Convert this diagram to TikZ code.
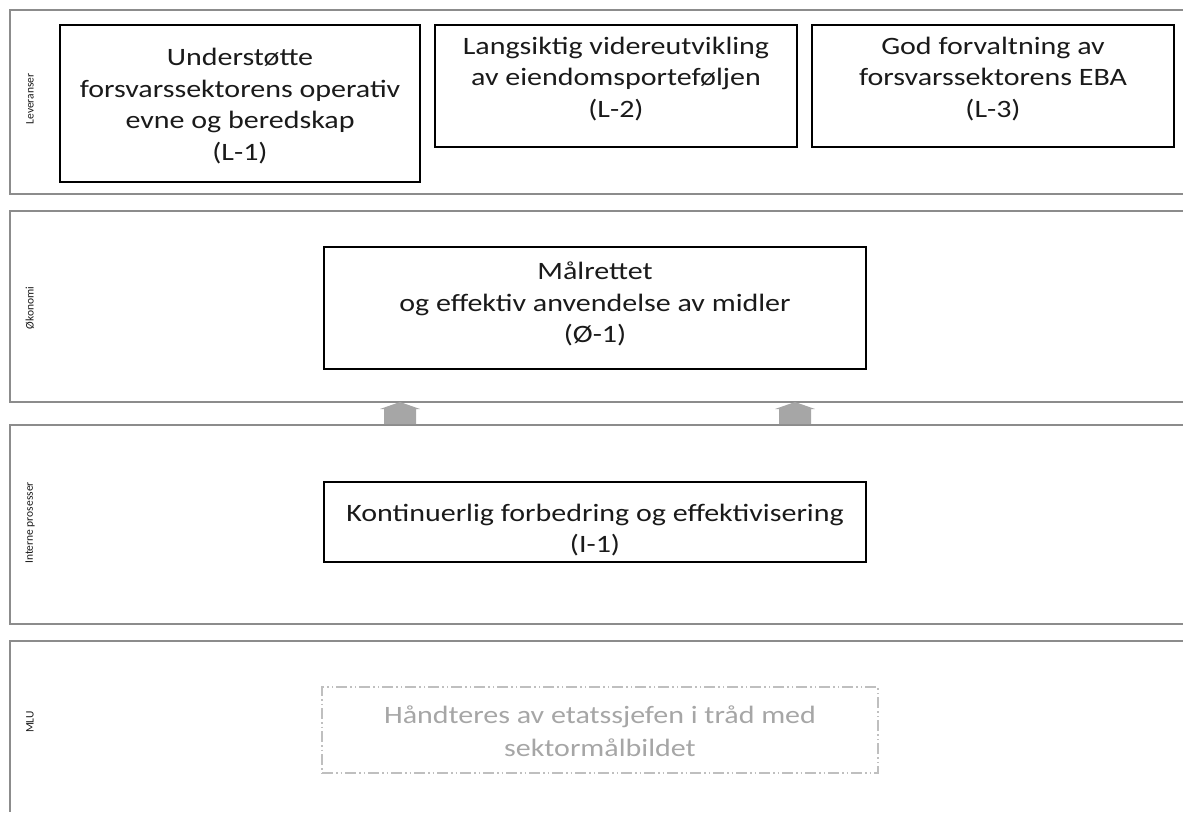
\documentclass[tikz,border=0pt]{standalone}
\usepackage{fontspec}
\setmainfont{Carlito}
\newfontfamily\boxfont[FakeStretch=1.2]{Carlito}
\definecolor{bandgray}{HTML}{8C8C8C}
\definecolor{arrowgray}{HTML}{A6A6A6}
\definecolor{dashgray}{HTML}{BFBFBF}
\definecolor{txt}{HTML}{1A1A1A}
\begin{document}
\begin{tikzpicture}[x=1pt,y=-1pt,
  band/.style={draw=bandgray, line width=1.1pt},
  goalbox/.style={draw=black, line width=1.5pt, inner sep=0pt},
  goaltext/.style={text=txt, align=center, font=\boxfont\fontsize{25}{31.5}\selectfont, inner sep=0pt},
  bandlabel/.style={rotate=90, text=txt, font=\fontsize{11.5}{13}\selectfont, inner sep=0pt},
  blockarrow/.style={fill=arrowgray, draw=none},
  mlubox/.style={draw=dashgray, line width=1.4pt, inner sep=0pt,
    dash pattern=on 11pt off 3pt on 1.5pt off 3pt on 1.5pt off 3pt},
  mlutext/.style={text=arrowgray, align=center, font=\boxfont\fontsize{25}{33}\selectfont, inner sep=0pt}
]
\useasboundingbox (0,0) rectangle (1183,812);

% bands
\draw[band] (1183,10) -- (10,10) -- (10,194) -- (1183,194);
\draw[band] (1183,211) -- (10,211) -- (10,402) -- (1183,402);
\draw[band] (1183,425) -- (10,425) -- (10,624) -- (1183,624);
\draw[band] (1183,641) -- (10,641) -- (10,812);

% band labels
\node[bandlabel] (lblL) at (30,99) {Leveranser};
\node[bandlabel] (lblO) at (30,308) {Økonomi};
\node[bandlabel] (lblI) at (30,523) {Interne prosesser};
\node[bandlabel] (lblM) at (30,722) {MLU};

% goal boxes
\node[goalbox, minimum width=360pt, minimum height=157pt] (L1) at (240,103.5) {};
\node[goaltext] (L1t) at (240,106) {Understøtte\\forsvarssektorens operativ\\evne og beredskap\\(L-1)};

\node[goalbox, minimum width=362pt, minimum height=122pt] (L2) at (616,86) {};
\node[goaltext] (L2t) at (616,79) {Langsiktig videreutvikling\\av eiendomsporteføljen\\(L-2)};

\node[goalbox, minimum width=362pt, minimum height=122pt] (L3) at (993,86) {};
\node[goaltext] (L3t) at (993,79) {God forvaltning av\\forsvarssektorens EBA\\(L-3)};

\node[goalbox, minimum width=542pt, minimum height=122pt] (O1) at (595,308) {};
\node[goaltext] (O1t) at (595,304) {Målrettet\\og effektiv anvendelse av midler\\(Ø-1)};

\node[goalbox, minimum width=542pt, minimum height=80pt] (I1) at (595,522) {};
\node[goaltext] (I1t) at (595,530) {Kontinuerlig forbedring og effektivisering\\(I-1)};

% MLU dashed box
\node[mlubox, minimum width=556pt, minimum height=86pt] (M1) at (600,730) {};
\node[mlutext] (M1t) at (600,731) {Håndteres av etatssjefen i tråd med\\sektormålbildet};

% block arrows between bands
\coordinate (a1) at (400,402);
\coordinate (a2) at (795,402);
\foreach \c in {a1,a2}{
  \fill[blockarrow] (\c) -- ++(20,7) -- ++(-4,0) -- ++(0,15) -- ++(-32,0) -- ++(0,-15) -- ++(-4,0) -- cycle;
}
\end{tikzpicture}
\end{document}
